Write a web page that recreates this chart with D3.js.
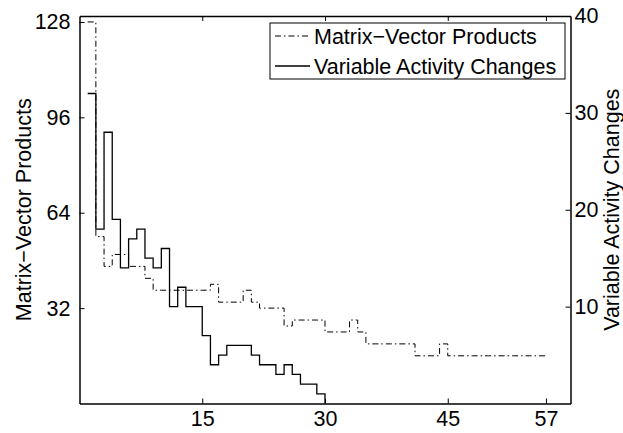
<!DOCTYPE html>
<html><head><meta charset="utf-8">
<script src="https://cdn.jsdelivr.net/npm/d3@7"></script>
<style>body{margin:0;background:#fff} text{font-family:"Liberation Sans",Arial,Helvetica,sans-serif}</style>
</head><body><svg id="c" width="623" height="433"></svg>
<script>
// Data
const mvIter = d3.range(1, 58);
const mvProducts = [128,56,46,50,50,46,46,42,
  38,38,38,38,38,38,38,40,34,34,34,38,34,32,32,32,26,28,28,28,28,
  24,24,24,28,24,20,20,20,20,20,20,16,16,16,20,
  16,16,16,16,16,16,16,16,16,16,16,16,16];
const actIter = d3.range(1, 31);
const activityChanges = [32,18,28,19,14,17,18,15,14,16,10,12,10,10,7,4,5,6,6,6,5,4,4,3,4,3,2,2,1,0];
const xTicks = [15,30,45,57];
const leftTicks = [32,64,96,128];
const rightTicks = [10,20,30,40];
const seriesNames = ["Matrix\u2212Vector Products","Variable Activity Changes"];
const leftLabel = "Matrix\u2212Vector Products";
const rightLabel = "Variable Activity Changes";

const svg = d3.select("#c");
const L = 79.5, R = 570.5, T = 16, B = 403.5;
const FS = 21.5;
const x = d3.scaleLinear().domain([0,60]).range([L,R]);
const yL = d3.scaleLinear().domain([0,130]).range([B,T]);
const yR = d3.scaleLinear().domain([0,40]).range([B,T]);

// lines
const lineMV = d3.line().x((d,i)=>x(mvIter[i])).y(d=>yL(d)).curve(d3.curveStepAfter);
const lineAC = d3.line().x((d,i)=>x(actIter[i])).y(d=>yR(d)).curve(d3.curveStepAfter);
svg.append("path").attr("d", lineMV(mvProducts)).attr("fill","none").attr("stroke","#000")
  .attr("stroke-width",1).attr("stroke-dasharray","6,3,1.5,3");
svg.append("path").attr("d", lineAC(activityChanges)).attr("fill","none").attr("stroke","#000")
  .attr("stroke-width",1.3);

function styleAxis(g){
  g.selectAll("path.domain").attr("stroke","#000").attr("stroke-width",1.5);
  g.selectAll(".tick line").attr("stroke","#000").attr("stroke-width",1);
  g.selectAll("text").attr("font-size",FS).attr("fill","#000").attr("font-family",null);
}
const gB = svg.append("g").attr("transform",`translate(0,${B})`)
  .call(d3.axisBottom(x).tickValues(xTicks).tickSizeInner(-5).tickSizeOuter(0).tickPadding(7));
styleAxis(gB);
const gT = svg.append("g").attr("transform",`translate(0,${T})`)
  .call(d3.axisTop(x).tickValues(xTicks).tickSizeInner(-5).tickSizeOuter(0).tickFormat(""));
styleAxis(gT);
const gL = svg.append("g").attr("transform",`translate(${L},0)`)
  .call(d3.axisLeft(yL).tickValues(leftTicks).tickSizeInner(-5).tickSizeOuter(0).tickPadding(9));
styleAxis(gL);
const gR = svg.append("g").attr("transform",`translate(${R},0)`)
  .call(d3.axisRight(yR).tickValues(rightTicks).tickSizeInner(-5).tickSizeOuter(0).tickPadding(4));
styleAxis(gR);

// axis labels
svg.append("text").attr("transform",`translate(31,${(T+B)/2}) rotate(-90)`)
  .attr("text-anchor","middle").attr("font-size",FS).text(leftLabel);
svg.append("text").attr("transform",`translate(619,${(T+B)/2}) rotate(-90)`)
  .attr("text-anchor","middle").attr("font-size",FS).text(rightLabel);

// legend
const lg = svg.append("g");
lg.append("rect").attr("x",270).attr("y",23).attr("width",295).attr("height",56)
  .attr("fill","#fff").attr("stroke","#000").attr("stroke-width",1);
const rows = [{y:36, dash:"6,3,1.5,3", w:1},{y:66, dash:null, w:1.3}];
rows.forEach((r,i)=>{
  lg.append("line").attr("x1",275).attr("x2",310).attr("y1",r.y).attr("y2",r.y)
    .attr("stroke","#000").attr("stroke-width",r.w).attr("stroke-dasharray",r.dash);
  lg.append("text").attr("x",314).attr("y",r.y).attr("dy","0.36em")
    .attr("font-size",FS).text(seriesNames[i]);
});
</script></body></html>
